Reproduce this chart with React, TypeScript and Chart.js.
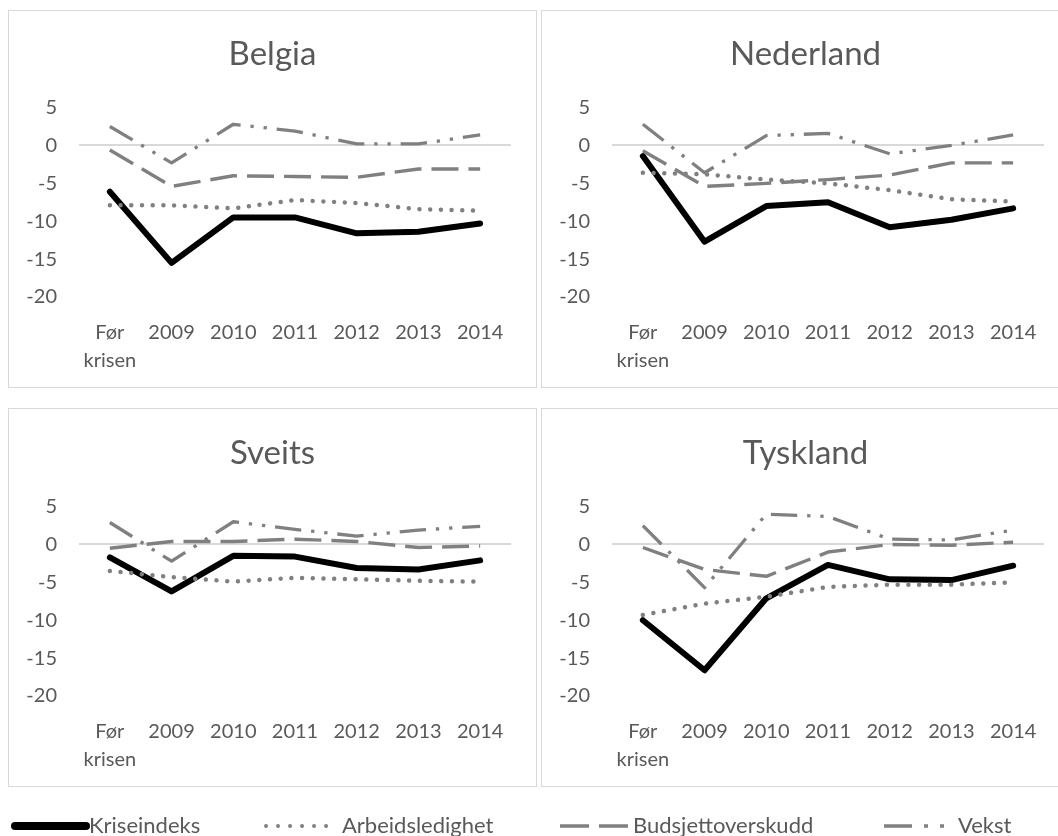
import React, { useEffect, useRef } from "react";
import { Chart, registerables } from "chart.js";

Chart.register(...registerables);

// ---------- Data ----------
const CATEGORIES: (string | string[])[] = [["Før", "krisen"], "2009", "2010", "2011", "2012", "2013", "2014"];
const Y_MIN = -20;
const Y_MAX = 5;
const Y_STEP = 5;
const SERIES_NAMES = ["Kriseindeks", "Arbeidsledighet", "Budsjettoverskudd", "Vekst"];

const BELGIA_KRISEINDEKS = [-6.1, -15.5, -9.5, -9.5, -11.6, -11.4, -10.3];
const BELGIA_ARBEIDSLEDIGHET = [-7.9, -7.9, -8.3, -7.2, -7.6, -8.4, -8.6];
const BELGIA_BUDSJETT = [-0.6, -5.4, -4.0, -4.1, -4.2, -3.1, -3.1];
const BELGIA_VEKST = [2.5, -2.3, 2.8, 1.9, 0.2, 0.2, 1.4];

const NEDERLAND_KRISEINDEKS = [-1.4, -12.7, -8.0, -7.5, -10.8, -9.8, -8.3];
const NEDERLAND_ARBEIDSLEDIGHET = [-3.6, -3.8, -4.5, -5.0, -5.9, -7.1, -7.4];
const NEDERLAND_BUDSJETT = [-0.7, -5.4, -5.0, -4.5, -3.9, -2.3, -2.3];
const NEDERLAND_VEKST = [2.8, -3.6, 1.3, 1.6, -1.1, 0.0, 1.4];

const SVEITS_KRISEINDEKS = [-1.7, -6.2, -1.5, -1.6, -3.1, -3.3, -2.1];
const SVEITS_ARBEIDSLEDIGHET = [-3.5, -4.3, -4.9, -4.4, -4.6, -4.8, -4.9];
const SVEITS_BUDSJETT = [-0.5, 0.4, 0.4, 0.7, 0.4, -0.4, -0.2];
const SVEITS_VEKST = [2.9, -2.2, 3.0, 2.0, 1.1, 1.9, 2.4];

const TYSKLAND_KRISEINDEKS = [-10.0, -16.6, -7.1, -2.7, -4.6, -4.7, -2.8];
const TYSKLAND_ARBEIDSLEDIGHET = [-9.3, -7.8, -6.9, -5.6, -5.3, -5.3, -5.0];
const TYSKLAND_BUDSJETT = [-0.4, -3.3, -4.2, -1.0, 0.0, -0.1, 0.3];
const TYSKLAND_VEKST = [2.5, -5.7, 4.0, 3.7, 0.7, 0.6, 1.9];

// ---------- Styles ----------
const TEXT = "#595959";
const GRAY = "#808080";
const FONT = "Lato, 'Open Sans', sans-serif";

type PanelProps = {
  title: string;
  krise: number[];
  arbeid: number[];
  budsjett: number[];
  vekst: number[];
  left: number;
  top: number;
  height: number;
  shift: number;
};

function Panel({ title, krise, arbeid, budsjett, vekst, left, top, height, shift }: PanelProps) {
  const ref = useRef<HTMLCanvasElement>(null);
  const canvasW = 527;
  const canvasH = height - 2;
  useEffect(() => {
    if (!ref.current) return;
    const xAxisH = canvasH - shift - 286;
    const chart = new Chart(ref.current, {
      type: "line",
      data: {
        labels: CATEGORIES as any,
        datasets: [
          {
            label: SERIES_NAMES[0],
            data: krise,
            borderColor: "#000000",
            borderWidth: 6,
            borderCapStyle: "round",
            borderJoinStyle: "round",
            pointRadius: 0,
            tension: 0,
            order: 4,
          },
          {
            label: SERIES_NAMES[1],
            data: arbeid,
            borderColor: GRAY,
            borderWidth: 4.5,
            borderDash: [0.01, 10.7],
            borderCapStyle: "round",
            borderJoinStyle: "round",
            pointRadius: 0,
            tension: 0,
            order: 3,
          },
          {
            label: SERIES_NAMES[2],
            data: budsjett,
            borderColor: GRAY,
            borderWidth: 3.4,
            borderDash: [27, 10],
            borderCapStyle: "butt",
            borderJoinStyle: "round",
            pointRadius: 0,
            tension: 0,
            order: 2,
          },
          {
            label: SERIES_NAMES[3],
            data: vekst,
            borderColor: GRAY,
            borderWidth: 3.3,
            borderDash: [26.4, 9.9, 3.3, 9.9, 3.3, 9.9],
            borderCapStyle: "butt",
            borderJoinStyle: "round",
            pointRadius: 0,
            tension: 0,
            order: 1,
          },
        ],
      },
      options: {
        responsive: false,
        animation: false,
        events: [],
        layout: { padding: { left: 0, right: 0, top: shift, bottom: 0 } },
        plugins: {
          legend: { display: false },
          tooltip: { enabled: false },
          title: {
            display: true,
            text: title,
            color: TEXT,
            font: { family: FONT, size: 33, weight: "normal", lineHeight: 1.2 },
            padding: { top: 24, bottom: 33 },
          },
        },
        scales: {
          x: {
            type: "category",
            offset: true,
            grid: { display: false },
            border: { display: false },
            ticks: {
              color: TEXT,
              font: { family: FONT, size: 20, lineHeight: 1.4 },
              padding: 14,
              maxRotation: 0,
              minRotation: 0,
              autoSkip: false,
            },
            afterFit: (s: any) => {
              s.height = xAxisH;
            },
          },
          y: {
            min: Y_MIN,
            max: Y_MAX,
            ticks: {
              stepSize: Y_STEP,
              color: TEXT,
              font: { family: FONT, size: 20 },
              padding: 22,
            },
            grid: {
              drawTicks: false,
              lineWidth: 2,
              color: (ctx: any) => (ctx.tick && ctx.tick.value === 0 ? "#d9d9d9" : "rgba(0,0,0,0)"),
            },
            border: { display: false },
            afterFit: (s: any) => {
              s.width = 70;
            },
          },
          yRight: {
            type: "linear",
            position: "right",
            display: true,
            ticks: { display: false },
            grid: { display: false, drawTicks: false },
            border: { display: false },
            afterFit: (s: any) => {
              s.width = 25;
            },
          },
        },
      } as any,
    });
    return () => chart.destroy();
  }, []);

  return (
    <div
      style={{
        position: "absolute",
        left,
        top,
        width: canvasW + 2,
        height,
        boxSizing: "border-box",
        border: "1px solid #d9d9d9",
        background: "#ffffff",
      }}
    >
      <canvas ref={ref} width={canvasW} height={canvasH} style={{ display: "block", width: canvasW, height: canvasH }} />
    </div>
  );
}

function Legend() {
  const y = 826;
  return (
    <svg style={{ position: "absolute", left: 0, top: 0 }} width={1058} height={836}>
      <line x1={15} y1={y} x2={86} y2={y} stroke="#000000" strokeWidth={8} strokeLinecap="round" />
      <text x={89} y={833} fill={TEXT} fontFamily={FONT} fontSize={22}>
        {SERIES_NAMES[0]}
      </text>
      <line x1={266} y1={y} x2={327} y2={y} stroke={GRAY} strokeWidth={4} strokeDasharray="0.01 12" strokeLinecap="round" />
      <text x={342} y={833} fill={TEXT} fontFamily={FONT} fontSize={22}>
        {SERIES_NAMES[1]}
      </text>
      <line x1={560} y1={y} x2={631} y2={y} stroke={GRAY} strokeWidth={3.5} strokeDasharray="29 10" />
      <text x={633} y={833} fill={TEXT} fontFamily={FONT} fontSize={22}>
        {SERIES_NAMES[2]}
      </text>
      <line x1={884} y1={y} x2={944} y2={y} stroke={GRAY} strokeWidth={3.5} strokeDasharray="28 12 4 12 4 30" />
      <text x={958} y={833} fill={TEXT} fontFamily={FONT} fontSize={22}>
        {SERIES_NAMES[3]}
      </text>
    </svg>
  );
}

export default function App() {
  return (
    <div
      style={{
        position: "absolute",
        left: 0,
        top: 0,
        width: 1058,
        height: 836,
        overflow: "hidden",
        background: "#ffffff",
      }}
    >
      <Panel title="Belgia" krise={BELGIA_KRISEINDEKS} arbeid={BELGIA_ARBEIDSLEDIGHET} budsjett={BELGIA_BUDSJETT} vekst={BELGIA_VEKST} left={8} top={10} height={378} shift={0} />
      <Panel title="Nederland" krise={NEDERLAND_KRISEINDEKS} arbeid={NEDERLAND_ARBEIDSLEDIGHET} budsjett={NEDERLAND_BUDSJETT} vekst={NEDERLAND_VEKST} left={541} top={10} height={378} shift={0} />
      <Panel title="Sveits" krise={SVEITS_KRISEINDEKS} arbeid={SVEITS_ARBEIDSLEDIGHET} budsjett={SVEITS_BUDSJETT} vekst={SVEITS_VEKST} left={8} top={408} height={379} shift={1} />
      <Panel title="Tyskland" krise={TYSKLAND_KRISEINDEKS} arbeid={TYSKLAND_ARBEIDSLEDIGHET} budsjett={TYSKLAND_BUDSJETT} vekst={TYSKLAND_VEKST} left={541} top={408} height={379} shift={1} />
      <Legend />
    </div>
  );
}
